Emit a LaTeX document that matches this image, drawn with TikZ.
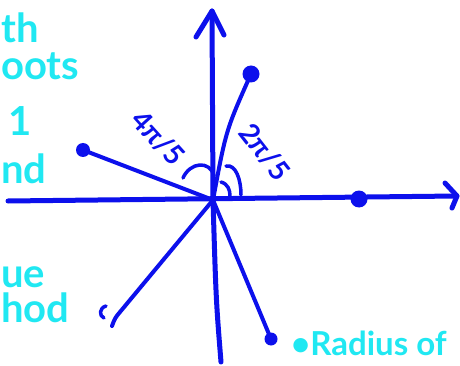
\documentclass[tikz,border=0pt]{standalone}
\usepackage{fontspec}
\setmainfont{Lato}
\definecolor{pen}{RGB}{12,16,236}
\definecolor{hilite}{RGB}{32,232,242}
\begin{document}
\begin{tikzpicture}[x=1pt,y=-1pt,line cap=round,line join=round,
  axisline/.style={draw=pen,line width=5pt},
  pline/.style={draw=pen,line width=4pt},
  arcline/.style={draw=pen,line width=3.5pt},
  rootdot/.style={circle,fill=pen,inner sep=0pt,minimum size=17pt},
  note/.style={text=hilite,inner sep=0pt,anchor=base west,font=\bfseries\fontsize{40}{44}\selectfont},
  anglabel/.style={text=pen,inner sep=0pt,font=\bfseries\fontsize{28}{32}\selectfont}]
\useasboundingbox (0,0) rectangle (460,366);
\clip (0,0) rectangle (460,366);
\fill[white] (0,0) rectangle (460,366);

\coordinate (O) at (213,200);
\coordinate (xl) at (8,201);
\coordinate (xr) at (457,196);
\coordinate (xa1) at (445,183);
\coordinate (xa2) at (452,208);
\coordinate (yt) at (212,11);
\coordinate (ya1) at (196,37);
\coordinate (ya2) at (224,35);
\coordinate (yb) at (221,362);
\coordinate (llend) at (112,326);
\coordinate (llbend) at (120,312);
\node[rootdot] (p0) at (359,199) {};
\node[rootdot] (p1) at (251,74) {};
\node[rootdot,minimum size=14pt] (p2) at (83,150) {};
\node[rootdot,minimum size=13pt] (p3) at (271,339) {};

\draw[axisline] (xl) -- (xr);
\draw[axisline] (xa1) -- (xr) -- (xa2);
\draw[axisline] (yb) .. controls (216,300) .. (O) -- (yt);
\draw[axisline] (ya1) -- (yt) -- (ya2);
\draw[pline] (O) .. controls (226,130) .. (p1.center);
\draw[pline] (O) -- (p2.center);
\draw[pline] (O) -- (p3.center);
\draw[pline] (O) -- (llbend) .. controls (115,318) .. (llend);
\draw[pline,line width=3.5pt] (106,306) .. controls (99,308) and (99,316) .. (104,318);

\draw[arcline] (183,178) .. controls (190,162) and (210,160) .. (214,176);
\draw[arcline] (226,166) .. controls (236,164) and (241,180) .. (241,195);
\draw[arcline] (221,182) .. controls (228,184) and (230,190) .. (230,196);

\node[anglabel,rotate=-48] (l4) at (158,138) {4π/5};
\node[anglabel,rotate=-52] (l2) at (265,152) {2π/5};

\node[note] (t1) at (1,43) {th};
\node[note] (t2) at (1,80) {oots};
\node[note] (t3) at (8,136) {1};
\node[note] (t4) at (1,183) {nd};
\node[note] (t5) at (1,287) {ue};
\node[note] (t6) at (1,322) {hod};
\node[note,font=\bfseries\fontsize{33}{38}\selectfont] (t7) at (291,355) {•Radius of};
\end{tikzpicture}
\end{document}
